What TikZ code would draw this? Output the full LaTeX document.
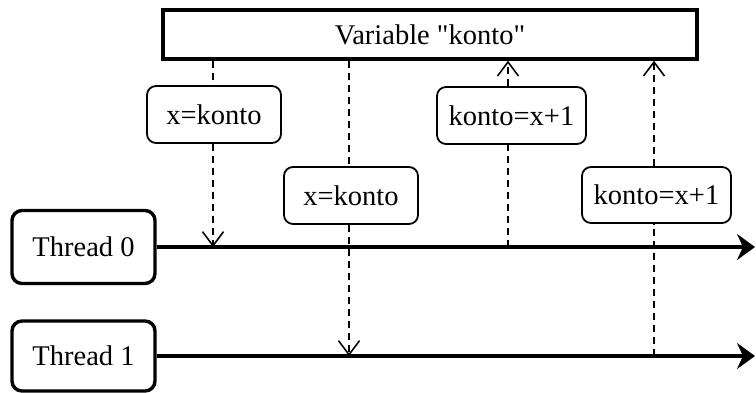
\documentclass[tikz,border=0pt]{standalone}
\usepackage{fontspec}
\setmainfont[Ligatures=NoCommon]{Liberation Serif}
\usetikzlibrary{arrows.meta}
\begin{document}
\begin{tikzpicture}[x=1pt,y=-1pt,
  every node/.style={font=\fontsize{28.5}{34}\selectfont, inner sep=0pt},
  varbox/.style={draw, line width=3.4pt, fill=white, minimum width=534pt, minimum height=49pt},
  threadbox/.style={draw, line width=3.4pt, rounded corners=10pt, fill=white, minimum width=143pt},
  opbox/.style={draw, line width=1.8pt, rounded corners=9pt, fill=white, minimum height=57pt},
  timeline/.style={line width=3.4pt, -{Stealth[length=18pt,width=26pt,inset=6pt]}},
  access/.style={line width=1.6pt, dash pattern=on 7pt off 5pt},
  accessarrow/.style={access, -{Straight Barb[length=14pt,width=21pt,line width=1.6pt]}}]
\useasboundingbox (0,0) rectangle (756,392);

% shared variable
\node[varbox] (var) at (430,34.5) {Variable \textquotedbl konto\textquotedbl};

% threads and their time lines
\node[threadbox, minimum height=73pt] (t0) at (83.5,247) {Thread 0};
\node[threadbox, minimum height=70pt] (t1) at (83.5,356) {Thread 1};
\coordinate (end0) at (755,247);
\coordinate (end1) at (755,356);
\draw[timeline] (t0.east) -- (end0);
\draw[timeline] (t1.east) -- (end1);

% operations
\node[opbox, minimum width=134pt] (r0op) at (214,114.5) {x=konto};
\node[opbox, minimum width=134pt] (r1op) at (351,195.5) {x=konto};
\node[opbox, minimum width=149pt] (w0op) at (511.5,115.5) {konto=x+1};
\node[opbox, minimum width=149pt, minimum height=56pt] (w1op) at (656.5,195) {konto=x+1};

% access points on the time lines
\coordinate (r0) at (213,247);
\coordinate (r1) at (349,356);
\coordinate (w0) at (508,247);
\coordinate (w1) at (654,356);

% reads: variable -> thread
\draw[access] (var.south -| r0) -- (r0op.north -| r0);
\draw[accessarrow] (r0op.south -| r0) -- (r0);
\draw[access] (var.south -| r1) -- (r1op.north -| r1);
\draw[accessarrow] (r1op.south -| r1) -- (r1);

% writes: thread -> variable
\draw[access] (w0) -- (w0op.south -| w0);
\draw[accessarrow] (w0op.north -| w0) -- (var.south -| w0);
\draw[access] (w1) -- (w1op.south -| w1);
\draw[accessarrow] (w1op.north -| w1) -- (var.south -| w1);
\end{tikzpicture}
\end{document}
